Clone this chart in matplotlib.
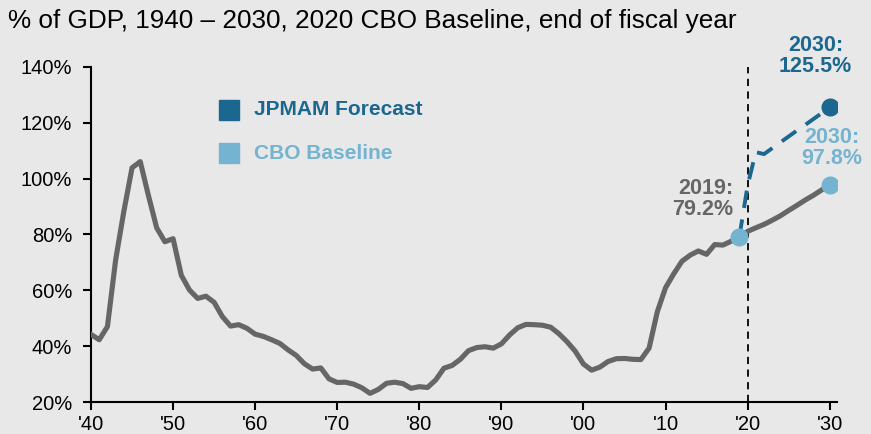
import matplotlib.pyplot as plt

plt.rcParams['font.family'] = ['Liberation Sans', 'DejaVu Sans']

# historical debt held by the public, % of GDP
hist_years = list(range(1940, 2020))
hist_debt = [44.2, 42.3, 47.0, 70.9, 88.3, 103.9, 106.1, 93.9, 82.4, 77.4,
             78.5, 65.4, 60.1, 57.1, 57.9, 55.7, 50.6, 47.2, 47.7, 46.4,
             44.3, 43.5, 42.3, 41.0, 38.7, 36.7, 33.7, 31.8, 32.2, 28.3,
             27.0, 27.1, 26.4, 25.1, 23.1, 24.5, 26.7, 27.1, 26.6, 24.9,
             25.5, 25.2, 27.9, 32.1, 33.1, 35.3, 38.4, 39.5, 39.8, 39.3,
             40.8, 44.0, 46.6, 47.8, 47.7, 47.5, 46.8, 44.5, 41.6, 38.2,
             33.6, 31.4, 32.5, 34.5, 35.5, 35.6, 35.3, 35.2, 39.3, 52.3,
             60.9, 65.9, 70.4, 72.6, 74.1, 72.9, 76.4, 76.2, 77.6, 79.2]

proj_years = list(range(2019, 2031))
cbo_debt = [79.2, 81.1, 82.4, 83.6, 85.1, 86.7, 88.6, 90.4, 92.3, 94.0, 95.9, 97.8]
jpm_debt = [79.2, 97.5, 109.5, 108.8, 110.9, 113.0, 115.1, 117.2, 119.2, 121.3, 123.4, 125.5]

xtick_years = list(range(1940, 2031, 10))
xtick_labels = ["'40", "'50", "'60", "'70", "'80", "'90", "'00", "'10", "'20", "'30"]
ytick_vals = list(range(20, 141, 20))

bg = '#e8e8e8'
gray = '#666666'
dark_blue = '#1b6790'
light_blue = '#74b4d0'

fig = plt.figure(figsize=(8.71, 4.34), dpi=100, facecolor=bg)
ax = fig.add_axes([0.1045, 0.0737, 0.8565, 0.772])
ax.set_facecolor(bg)

ax.plot(hist_years, hist_debt, color=gray, lw=3.7, solid_joinstyle='round', zorder=3)
ax.plot(proj_years, cbo_debt, color=gray, lw=3.7, solid_joinstyle='round', zorder=3)
ax.plot(proj_years, jpm_debt, color=dark_blue, lw=2.8, dashes=(4.5, 3), zorder=3)

ax.axvline(2020, color='black', lw=1.3, dashes=(4, 3), zorder=2)

ax.plot([2019], [79.2], 'o', color=light_blue, ms=12, zorder=4)
ax.plot([2030], [cbo_debt[-1]], 'o', color=light_blue, ms=12, zorder=4)
ax.plot([2030], [jpm_debt[-1]], 'o', color=dark_blue, ms=12, zorder=4)

ax.text(2028.3, 136.3, '2030:\n125.5%', color=dark_blue, fontsize=15.5, fontweight='bold',
        ha='center', va='bottom', linespacing=1.0)
ax.text(2030.3, 103.3, '2030:\n97.8%', color=light_blue, fontsize=15.5, fontweight='bold',
        ha='center', va='bottom', linespacing=1.0)
ax.text(2018.3, 85.3, '2019:\n79.2%', color=gray, fontsize=15.5, fontweight='bold',
        ha='right', va='bottom', linespacing=1.0)

# legend
ax.plot([0.185], [0.872], 's', color=dark_blue, ms=14.5, transform=ax.transAxes, clip_on=False)
ax.plot([0.185], [0.743], 's', color=light_blue, ms=14.5, transform=ax.transAxes, clip_on=False)
ax.text(0.219, 0.872, 'JPMAM Forecast', color=dark_blue, fontsize=15, fontweight='bold',
        va='center', transform=ax.transAxes)
ax.text(0.219, 0.743, 'CBO Baseline', color=light_blue, fontsize=15, fontweight='bold',
        va='center', transform=ax.transAxes)

ax.set_xlim(1940, 2030.9)
ax.set_ylim(20, 140)
ax.set_xticks(xtick_years)
ax.set_xticklabels(xtick_labels)
ax.set_yticks(ytick_vals)
ax.set_yticklabels([f'{v}%' for v in ytick_vals])
ax.tick_params(labelsize=14.5, length=6, width=1.5, colors='black')
ax.tick_params(axis='y', pad=7.5)
ax.tick_params(axis='x', pad=3)

for side in ['top', 'right']:
    ax.spines[side].set_visible(False)
for side in ['left', 'bottom']:
    ax.spines[side].set_linewidth(1.5)

fig.text(0.009, 0.951, '% of GDP, 1940 \u2013 2030, 2020 CBO Baseline, end of fiscal year',
         fontsize=18.8, va='center', ha='left')

fig.savefig('out.png', dpi=100, facecolor=bg)
